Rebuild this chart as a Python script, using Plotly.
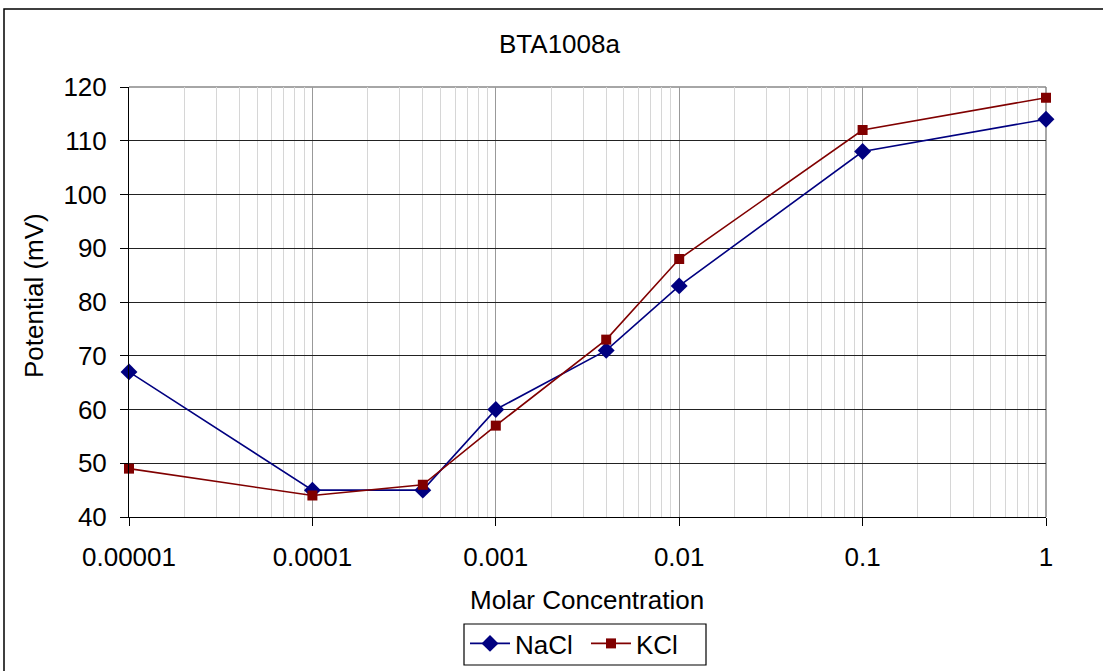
import plotly.graph_objects as go

# Electrode potential vs. salt concentration
conc = [0.00001, 0.0001, 0.0004, 0.001, 0.004, 0.01, 0.1, 1]
nacl = [67, 45, 45, 60, 71, 83, 108, 114]
kcl = [49, 44, 46, 57, 73, 88, 112, 118]

x_ticks = [0.00001, 0.0001, 0.001, 0.01, 0.1, 1]
x_tick_text = ["0.00001", "0.0001", "0.001", "0.01", "0.1", "1"]
y_ticks = [40, 50, 60, 70, 80, 90, 100, 110, 120]

# light gridlines at 2..9 within every decade
minor_vals = [m * 10.0 ** k for k in range(-5, 0) for m in range(2, 10)]

FONT = "Arial, Liberation Sans, sans-serif"
W, H = 1103, 671
L, R, T, B = 129, 57, 87, 154
PW, PH = W - L - R, H - T - B


def px_x(p):
    return (p - L) / PW


def px_y(p):
    return (H - B - p) / PH


fig = go.Figure()
fig.add_trace(go.Scatter(
    x=conc, y=nacl, name="NaCl", mode="lines+markers",
    line=dict(color="#000080", width=1.6),
    marker=dict(symbol="diamond", size=13, color="#000080"),
    cliponaxis=False,
))
fig.add_trace(go.Scatter(
    x=conc, y=kcl, name="KCl", mode="lines+markers",
    line=dict(color="#800000", width=1.6),
    marker=dict(symbol="square", size=10, color="#800000"),
    cliponaxis=False,
))

fig.update_layout(
    width=W, height=H,
    margin=dict(l=L, r=R, t=T, b=B, autoexpand=False),
    paper_bgcolor="white", plot_bgcolor="white",
    font=dict(family=FONT, size=26, color="black"),
    showlegend=True,
    legend=dict(
        orientation="h", x=px_x(586), xanchor="center",
        y=px_y(620), yanchor="top",
        borderwidth=0, bgcolor="rgba(0,0,0,0)",
        font=dict(size=26),
        entrywidth=66, itemwidth=40,
    ),
    xaxis=dict(
        type="log", range=[-5, 0],
        tickmode="array", tickvals=x_ticks, ticktext=x_tick_text,
        ticks="outside", ticklen=8, tickcolor="black", tickwidth=1,
        ticklabelstandoff=9,
        showline=True, linecolor="black", linewidth=1,
        showgrid=True, gridcolor="#999999", gridwidth=1,
        zeroline=False,
        minor=dict(tickvals=minor_vals, showgrid=True,
                   gridcolor="#d6d6d6", gridwidth=1, ticks=""),
    ),
    yaxis=dict(
        range=[40, 120], tickmode="array", tickvals=y_ticks,
        ticks="outside", ticklen=8, tickcolor="black", tickwidth=1,
        ticklabelstandoff=8,
        showline=True, linecolor="black", linewidth=1,
        showgrid=True, gridcolor="#222222", gridwidth=1,
        zeroline=False,
    ),
    annotations=[
        dict(text="BTA1008a", xref="paper", yref="paper",
             x=px_x(559), y=px_y(44), xanchor="center", yanchor="middle",
             showarrow=False, font=dict(size=26)),
        dict(text="Molar Concentration", xref="paper", yref="paper",
             x=px_x(587), y=px_y(600), xanchor="center", yanchor="middle",
             showarrow=False, font=dict(size=26)),
        dict(text="Potential (mV)", xref="paper", yref="paper",
             x=px_x(34), y=px_y(296), xanchor="center", yanchor="middle",
             textangle=-90, showarrow=False, font=dict(size=26)),
    ],
    shapes=[
        # grey plot-area frame on top and right
        dict(type="line", xref="paper", yref="paper", x0=0, x1=1, y0=1, y1=1,
             line=dict(color="#888888", width=1.5), layer="between"),
        dict(type="line", xref="paper", yref="paper", x0=1, x1=1, y0=0, y1=1,
             line=dict(color="#888888", width=1.5), layer="between"),
        # legend frame
        dict(type="rect", xref="paper", yref="paper",
             x0=px_x(464), x1=px_x(706), y0=px_y(665), y1=px_y(624),
             line=dict(color="black", width=1.2), layer="above"),
        # chart-area border
        dict(type="rect", xref="paper", yref="paper",
             x0=px_x(4), x1=px_x(1115), y0=px_y(685), y1=px_y(9),
             line=dict(color="black", width=1.5), layer="above"),
    ],
)

fig.write_html("out.html")
